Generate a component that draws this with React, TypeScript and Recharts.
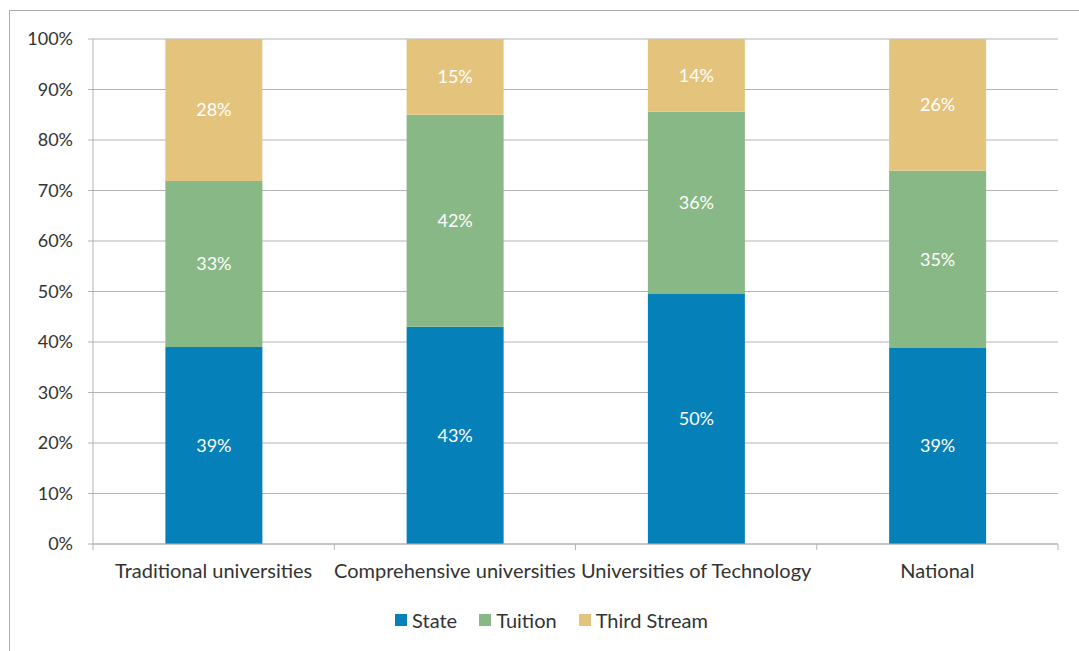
import React from 'react';
import { BarChart, Bar, XAxis, YAxis, CartesianGrid, LabelList, Legend } from 'recharts';

const categories = ['Traditional universities', 'Comprehensive universities', 'Universities of Technology', 'National'];
const stateShare = [39.0, 43.0, 49.5, 38.8];
const tuitionShare = [32.9, 42.0, 36.1, 35.1];
const thirdStreamShare = [28.1, 15.0, 14.4, 26.1];
const yTicks = [0, 10, 20, 30, 40, 50, 60, 70, 80, 90, 100];

const seriesNames = ['State', 'Tuition', 'Third Stream'];
const seriesKeys = ['state', 'tuition', 'third'];
const seriesColors = ['#0680B9', '#88B886', '#E4C47C'];

const data = categories.map((c, i) => ({
  name: c,
  state: stateShare[i],
  tuition: tuitionShare[i],
  third: thirdStreamShare[i],
}));

const FONT = 'Lato, "Open Sans", sans-serif';
const TEXT = '#333333';
const GRID = '#B3B3B3';
const CAT_MARGIN = 20;

const CategoryTick = (props: any) => {
  const { x, y, payload, index, visibleTicksCount } = props;
  const half = payload && payload.offset ? payload.offset : 0;
  const axisY = y - CAT_MARGIN;
  return (
    <g>
      <line x1={x - half} y1={axisY} x2={x - half} y2={axisY + 6} stroke={GRID} strokeWidth={1} />
      {index === (visibleTicksCount ?? categories.length) - 1 && (
        <line x1={x + half} y1={axisY} x2={x + half} y2={axisY + 6} stroke={GRID} strokeWidth={1} />
      )}
      <text x={x} y={y} dy="0.71em" textAnchor="middle" fill={TEXT} fontSize={20} fontFamily={FONT}>
        {payload.value}
      </text>
    </g>
  );
};

const LegendContent = () => (
  <div style={{ display: 'flex', justifyContent: 'center', alignItems: 'center', fontFamily: FONT, fontSize: 20, color: TEXT, marginTop: -2, paddingLeft: 12 }}>
    {seriesNames.map((n, i) => (
      <div key={n} style={{ display: 'flex', alignItems: 'center', marginLeft: i === 0 ? 0 : 22 }}>
        <span style={{ display: 'inline-block', width: 12, height: 12, background: seriesColors[i], marginRight: 5 }} />
        <span>{n}</span>
      </div>
    ))}
  </div>
);

const fmt = (v: any) => `${Math.round(Number(v))}%`;

export default function App() {
  return (
    <div style={{ position: 'absolute', left: 0, top: 0, width: 1079, height: 651, overflow: 'hidden', background: '#fff' }}>
      <div
        style={{
          position: 'absolute',
          left: 9,
          top: 10,
          width: 1070,
          height: 641,
          borderTop: '1.5px solid #ABABAB',
          borderLeft: '1.5px solid #ABABAB',
          boxSizing: 'border-box',
        }}
      />
      <div style={{ position: 'absolute', left: 0, top: 0 }}>
        <BarChart
          width={1079}
          height={651}
          data={data}
          margin={{ top: 39, right: 21, left: 33, bottom: 15 }}
          barCategoryGap="30%"
        >
          <CartesianGrid vertical={false} stroke={GRID} strokeWidth={1} />
          <XAxis
            dataKey="name"
            axisLine={{ stroke: GRID }}
            tickLine={false}
            tickSize={0}
            tickMargin={CAT_MARGIN}
            height={66}
            interval={0}
            tick={<CategoryTick />}
          />
          <YAxis
            domain={[0, 100]}
            ticks={yTicks}
            tickFormatter={(v: number) => `${v}%`}
            width={60}
            axisLine={{ stroke: GRID }}
            tickLine={{ stroke: GRID }}
            tickSize={5}
            tickMargin={15}
            tick={{ fill: TEXT, fontSize: 18, fontFamily: FONT }}
            allowDataOverflow
          />
          <Legend verticalAlign="bottom" height={26} content={<LegendContent />} />
          {seriesKeys.map((k, i) => (
            <Bar key={k} dataKey={k} name={seriesNames[i]} stackId="a" fill={seriesColors[i]} isAnimationActive={false}>
              <LabelList dataKey={k} position="center" formatter={fmt} fill="#FFFFFF" fontSize={18} fontFamily={FONT} />
            </Bar>
          ))}
        </BarChart>
      </div>
    </div>
  );
}
